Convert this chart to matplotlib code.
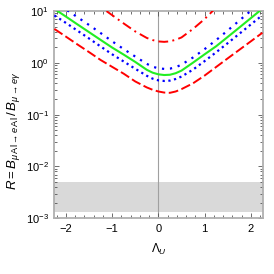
import matplotlib
matplotlib.use("Agg")
import matplotlib.pyplot as plt
from matplotlib.ticker import MultipleLocator, LogLocator, NullFormatter

plt.rcParams['font.family'] = ['Liberation Sans', 'DejaVu Sans']
plt.rcParams['mathtext.fontset'] = 'custom'
plt.rcParams['mathtext.rm'] = 'Liberation Sans'
plt.rcParams['mathtext.it'] = 'Liberation Sans:italic'
plt.rcParams['mathtext.bf'] = 'Liberation Sans:bold'

# Lambda_U grid and read-off values of R
lam = [-2.25, -2.0, -1.75, -1.5, -1.25, -1.0, -0.75, -0.5, -0.25, -0.125, 0.0,
       0.125, 0.25, 0.375, 0.5, 0.75, 1.0, 1.25, 1.5, 1.75, 2.0, 2.25]

r_green = [10.96, 7.80, 5.51, 3.91, 2.77, 1.97, 1.44, 1.04, 0.733, 0.646, 0.600,
           0.582, 0.589, 0.631, 0.708, 1.01, 1.46, 2.09, 3.16, 4.79, 7.29, 11.1]
r_red_dash = [4.51, 3.20, 2.26, 1.61, 1.135, 0.836, 0.617, 0.437, 0.335, 0.302, 0.280,
              0.267, 0.264, 0.280, 0.311, 0.403, 0.568, 0.832, 1.22, 1.78, 2.60, 3.80]
r_blue_up = [15.8, 10.7, 7.59, 5.37, 3.76, 2.60, 1.84, 1.32, 0.955, 0.841, 0.785,
             0.764, 0.773, 0.822, 0.923, 1.27, 1.84, 2.75, 4.22, 6.53, 10.1, 15.8]
r_blue_lo = [8.22, 5.89, 4.17, 2.95, 2.07, 1.46, 1.06, 0.767, 0.562, 0.495, 0.459,
             0.447, 0.454, 0.488, 0.543, 0.741, 1.08, 1.60, 2.40, 3.63, 5.50, 8.32]

lam_dd = [-1.5, -1.25, -1.0, -0.75, -0.5, -0.25, -0.125, 0.0, 0.125, 0.25, 0.375,
          0.5, 0.75, 1.0, 1.25, 1.5]
r_red_dd = [17.8, 12.0, 8.32, 5.75, 4.03, 3.02, 2.75, 2.59, 2.54, 2.60, 2.79,
            3.09, 4.52, 7.00, 11.7, 20.0]

band_lo, band_hi = 1.3e-3, 5.1e-3
xticks = [-2, -1, 0, 1, 2]

fig = plt.figure(figsize=(2.74, 2.74), dpi=100)
ax = fig.add_axes([0.1985, 0.2033, 0.7625, 0.7565])

ax.axhspan(band_lo, band_hi, color='#d9d9d9', lw=0, zorder=0)
ax.axvline(0, color='#a0a0a0', lw=0.8, zorder=1)

ax.plot(lam, r_red_dash, color='#ff0000', lw=1.4, dashes=(5, 1.8), zorder=3)
ax.plot(lam, r_blue_lo, color='#0000ff', lw=1.6, dashes=(1, 1.6), zorder=3)
ax.plot(lam, r_green, color='#22ee22', lw=1.5, zorder=4)
ax.plot(lam, r_blue_up, color='#0000ff', lw=1.6, dashes=(1, 2.6), zorder=3)
ax.plot(lam_dd, r_red_dd, color='#ff0000', lw=1.4, dashes=(5, 2.2, 1, 2.2), zorder=3)

ax.set_yscale('log')
ax.set_ylim(1e-3, 10)
ax.set_xlim(-2.25, 2.27)

ax.xaxis.set_major_locator(MultipleLocator(1))
ax.xaxis.set_minor_locator(MultipleLocator(0.2))
ax.set_xticks(xticks)
ax.set_xticklabels(['\u22122', '\u22121', '0', '1', '2'])
ax.yaxis.set_major_locator(LogLocator(base=10, numticks=10))
ax.yaxis.set_minor_locator(LogLocator(base=10, subs=range(2, 10), numticks=20))
ax.yaxis.set_minor_formatter(NullFormatter())

ax.tick_params(which='both', direction='in', top=True, right=True,
               color='#555555', labelsize=8, width=0.6)
ax.tick_params(which='major', length=3.5, pad=4)
ax.tick_params(which='minor', length=2)

for sp in ax.spines.values():
    sp.set_color('#b0b0b0')
    sp.set_linewidth(1.3)

ax.set_xlabel(r'$\mathrm{\Lambda}_U$', fontsize=8.5, labelpad=6)
ax.set_ylabel(r'$R = B_{\mu\,\mathrm{Al}\rightarrow e\,\mathrm{Al}}\,/\,B_{\mu\rightarrow e\gamma}$',
              fontsize=9.5)
ax.yaxis.set_label_coords(-0.155, 0.42)

fig.savefig('out.png', dpi=100)
